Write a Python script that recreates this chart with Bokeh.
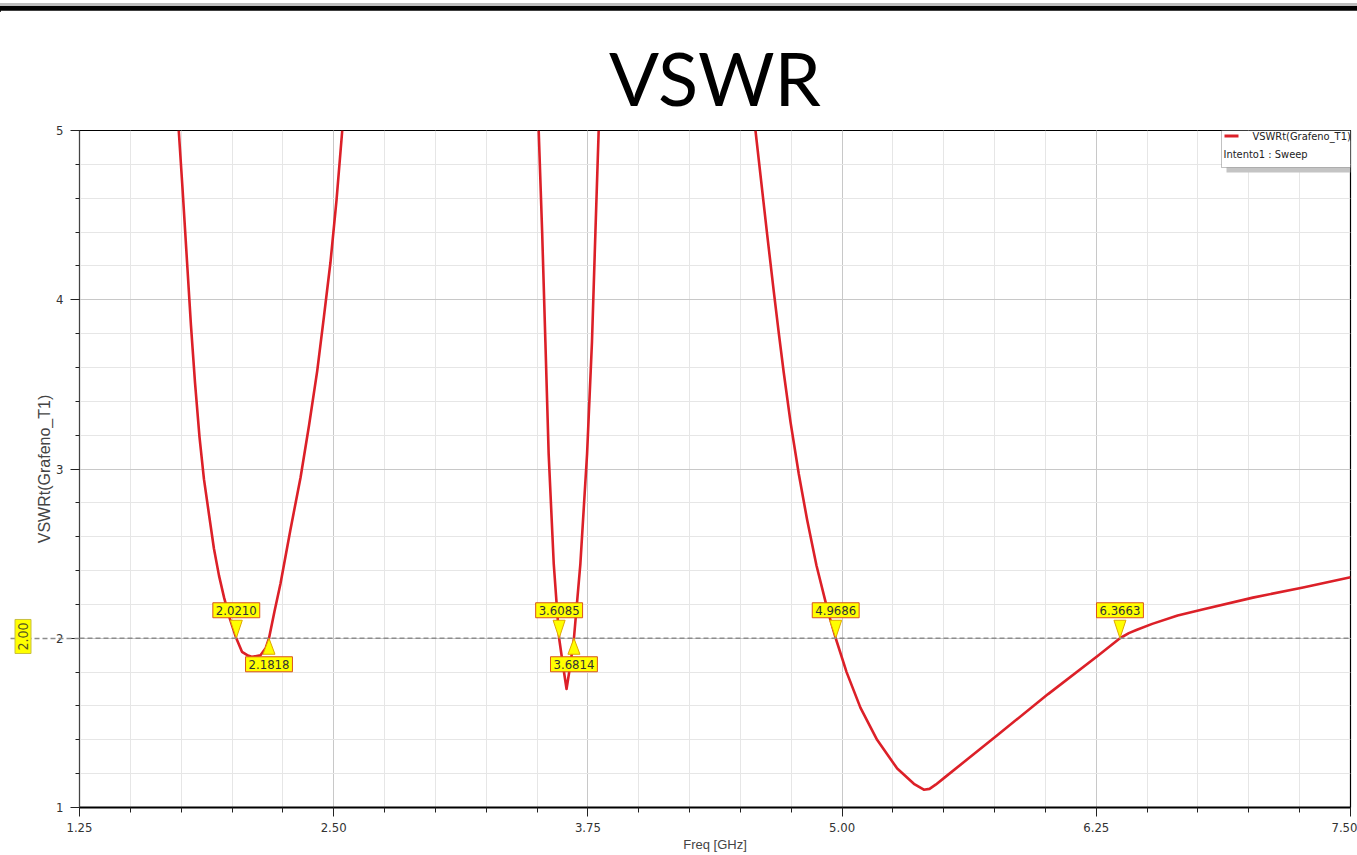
import numpy as np
from bokeh.plotting import figure
from bokeh.models import (FixedTicker, Label, Span, BoxAnnotation, Div, Title,
                          LinearAxis, PrintfTickFormatter, CustomLabelingPolicy)
from bokeh.layouts import column
from bokeh.embed import file_html
from bokeh.resources import INLINE

nan = float("nan")

# ---------------- data ----------------
freq_ghz = [
    1.738, 1.757, 1.779, 1.798, 1.818, 1.840, 1.862, 1.887, 1.911, 1.936, 1.961,
    1.988, 2.021, 2.049, 2.075, 2.100, 2.140, 2.165, 2.1818,
    2.209, 2.238, 2.287, 2.337, 2.379, 2.419, 2.452, 2.484, 2.514, 2.542,
    nan,
    3.508, 3.525, 3.541, 3.557, 3.582, 3.6085, 3.630, 3.645, 3.662, 3.6814,
    3.713, 3.746, 3.770, 3.787, 3.803,
    nan,
    4.574, 4.632, 4.664, 4.689, 4.713, 4.746, 4.787, 4.828, 4.874, 4.930, 4.9686,
    5.022, 5.090, 5.172, 5.271, 5.353, 5.402, 5.430, 5.460, 5.502, 5.766, 6.013,
    6.261, 6.3663, 6.410, 6.450, 6.525, 6.650, 6.772, 7.020, 7.267, 7.500,
]
vswr = [
    5.00, 4.65, 4.22, 3.85, 3.51, 3.19, 2.94, 2.73, 2.53, 2.37, 2.24,
    2.12, 2.00, 1.92, 1.90, 1.89, 1.90, 1.94, 2.00,
    2.16, 2.32, 2.64, 2.95, 3.26, 3.58, 3.90, 4.22, 4.59, 5.00,
    nan,
    5.00, 4.40, 3.75, 3.09, 2.44, 2.00, 1.82, 1.70, 1.83, 2.00,
    2.44, 3.09, 3.75, 4.40, 5.00,
    nan,
    5.00, 4.38, 4.05, 3.80, 3.57, 3.28, 2.97, 2.70, 2.43, 2.16, 2.00,
    1.80, 1.59, 1.40, 1.23, 1.14, 1.105, 1.11, 1.135, 1.175, 1.43, 1.67,
    1.90, 2.00, 2.03, 2.05, 2.085, 2.135, 2.17, 2.24, 2.30, 2.36,
]

marker_freq = [2.0210, 2.1818, 3.6085, 3.6814, 4.9686, 6.3663]
marker_text = ["2.0210", "2.1818", "3.6085", "3.6814", "4.9686", "6.3663"]
marker_side = ["above", "below", "above", "below", "above", "above"]
threshold = 2.0
threshold_text = "2.00"

x_ticks = [1.25, 2.50, 3.75, 5.00, 6.25, 7.50]
x_tick_labels = ["1.25", "2.50", "3.75", "5.00", "6.25", "7.50"]
y_ticks = [1, 2, 3, 4, 5]
y_tick_labels = ["1", "2", "3", "4", "5"]

title_text = "VSWR"
x_label = "Freq [GHz]"
y_label = "VSWRt(Grafeno_T1)"
legend_series = "VSWRt(Grafeno_T1)"
legend_setup = "Intento1 : Sweep"

# ---------------- geometry ----------------
X_MIN, X_MAX = 1.25, 7.5
Y_MIN, Y_MAX = 1.0, 5.0
PAGE_W = 1357
BAR_H = 10
FRAME_L, FRAME_T = 79, 130
FRAME_W, FRAME_H = 1271, 677
FIG_H = 855 - BAR_H

XS = FRAME_W / (X_MAX - X_MIN)
YS = FRAME_H / (Y_MAX - Y_MIN)


def dx(px):
    return X_MIN + (px - FRAME_L) / XS


def dy(py):
    return Y_MIN + (FRAME_T + FRAME_H - py) / YS


COND = "DejaVu Sans Condensed"
RED = "#dc2028"
YELLOW = "#ffff00"

p = figure(frame_width=FRAME_W, frame_height=FRAME_H,
           x_range=(X_MIN, X_MAX), y_range=(Y_MIN, Y_MAX),
           output_backend="svg", toolbar_location=None,
           min_border_left=FRAME_L, min_border_right=PAGE_W - FRAME_L - FRAME_W,
           min_border_top=FRAME_T - BAR_H,
           min_border_bottom=FIG_H - (FRAME_T - BAR_H) - FRAME_H)
p.outline_line_color = "black"
p.outline_line_width = 1.2
p.background_fill_color = "white"
p.border_fill_color = "white"

# title (in the top panel)
p.title.text = title_text
p.title.align = "center"
p.title.text_font = "Lato"
p.title.text_font_size = "74px"
p.title.text_font_style = "normal"
p.title.text_color = "black"
p.title.standoff = 17

# ticks
xt = FixedTicker(ticks=x_ticks, minor_ticks=[round(v, 2) for v in np.arange(1.25, 7.51, 0.25)])
yt = FixedTicker(ticks=y_ticks, minor_ticks=[round(v, 2) for v in np.arange(1.0, 5.01, 0.2)])
p.xaxis.ticker = xt
p.yaxis.ticker = yt
p.xgrid.ticker = xt
p.ygrid.ticker = yt
p.xaxis.formatter = PrintfTickFormatter(format="%.2f")
p.yaxis.formatter = PrintfTickFormatter(format="%d")
p.xaxis.major_label_overrides = dict(zip(x_ticks, x_tick_labels))
p.yaxis.major_label_overrides = dict(zip(y_ticks, y_tick_labels))

for ax in (p.xaxis, p.yaxis):
    ax.major_label_text_font = COND
    ax.major_label_text_font_size = "13px"
    ax.major_label_text_color = "#333333"
    ax.major_tick_in = 0
    ax.minor_tick_in = 0
    ax.major_tick_line_color = "#222222"
    ax.minor_tick_line_color = "#222222"

p.xaxis.axis_line_color = "black"
p.xaxis.axis_line_width = 2
p.xaxis.major_tick_out = 9
p.xaxis.minor_tick_out = 5
p.xaxis.major_label_standoff = 6
p.xaxis.axis_label = x_label
p.xaxis.axis_label_text_font = "Liberation Sans"
p.xaxis.axis_label_text_font_size = "13px"
p.xaxis.axis_label_text_font_style = "normal"
p.xaxis.axis_label_text_color = "#444444"
p.xaxis.axis_label_standoff = 2

p.yaxis.axis_line_color = "#444444"
p.yaxis.axis_line_width = 1
p.yaxis.major_tick_out = 9
p.yaxis.minor_tick_out = 4
p.yaxis.major_label_standoff = 7
p.yaxis.axis_label = y_label
p.yaxis.axis_label_text_font = "Liberation Sans"
p.yaxis.axis_label_text_font_size = "16px"
p.yaxis.axis_label_text_font_style = "normal"
p.yaxis.axis_label_text_color = "#444444"
p.yaxis.axis_label_standoff = 0

# yellow threshold tag, just left of the y axis label
tag = Title(text=threshold_text, align="left", offset=154, standoff=5,
            text_font=COND, text_font_size="14px", text_font_style="normal",
            text_color="#555522", background_fill_color=YELLOW,
            border_line_color="#c8c040", padding=3)
p.add_layout(tag, "left")

# dashed continuation of the threshold line left of the y axis
dash_axis = LinearAxis(ticker=FixedTicker(ticks=[threshold], minor_ticks=[]),
                       axis_line_color=None, minor_tick_line_color=None,
                       major_tick_line_color="#8c8c8c", major_tick_line_dash="5 3",
                       major_tick_line_width=1.3, major_tick_in=72, major_tick_out=0,
                       major_label_standoff=0, major_label_text_font_size="1px",
                       major_label_policy=CustomLabelingPolicy(code="return new Set()"))
p.add_layout(dash_axis, "left")

p.xgrid.grid_line_color = "#c8c8c8"
p.ygrid.grid_line_color = "#c8c8c8"
p.xgrid.minor_grid_line_color = "#e6e6e6"
p.ygrid.minor_grid_line_color = "#e6e6e6"

# threshold line
p.add_layout(Span(location=threshold, dimension="width", line_color="#8c8c8c",
                  line_dash="5 3", line_width=1.3))

# curve
p.line(freq_ghz, vswr, line_color=RED, line_width=2.6, line_join="round")

# marker pointers
tri_xs, tri_ys = [], []
for f, side in zip(marker_freq, marker_side):
    hw = 6 / XS
    if side == "above":
        tri_xs.append([f - hw, f + hw, f])
        tri_ys.append([threshold + 18 / YS, threshold + 18 / YS, threshold])
    else:
        tri_xs.append([f - hw, f + hw, f])
        tri_ys.append([threshold - 16 / YS, threshold - 16 / YS, threshold])
p.patches(tri_xs, tri_ys, fill_color=YELLOW, line_color="#e0a800", line_width=1)

for f, txt, side in zip(marker_freq, marker_text, marker_side):
    yy = threshold + 28 / YS if side == "above" else threshold - 26 / YS
    p.add_layout(Label(x=f, y=yy, text=txt, text_align="center", text_baseline="middle",
                       text_font=COND, text_font_size="13px", text_color="#333333",
                       background_fill_color=YELLOW, border_line_color="#d9541e",
                       border_line_width=1, padding=3))

# legend (inside the frame, top right)
p.add_layout(BoxAnnotation(left=dx(1226), right=X_MAX, top=dy(140), bottom=dy(172),
                           fill_color="#c4c4c4", fill_alpha=1, line_alpha=0))
p.add_layout(BoxAnnotation(left=dx(1221), right=X_MAX, top=Y_MAX, bottom=dy(167),
                           fill_color="white", fill_alpha=1, line_color="#333333",
                           line_width=1))
p.add_layout(BoxAnnotation(left=dx(1224), right=dx(1238), top=dy(134), bottom=dy(137),
                           fill_color=RED, fill_alpha=1, line_alpha=0))
p.add_layout(Label(x=dx(1252), y=dy(136), text=legend_series, text_align="left",
                   text_baseline="middle", text_font=COND, text_font_size="11px",
                   text_color="#222222"))
p.add_layout(Label(x=dx(1223), y=dy(154), text=legend_setup, text_align="left",
                   text_baseline="middle", text_font=COND, text_font_size="11px",
                   text_color="#222222"))

bar = Div(text='<div style="width:1357px;height:3px;background:#bdbdbd"></div>'
               '<div style="width:1357px;height:6px;background:#000"></div>',
          width=PAGE_W, height=BAR_H, margin=(0, 0, 0, 0))

layout = column(bar, p, spacing=0)
open("out.html", "w").write(file_html(layout, INLINE))
